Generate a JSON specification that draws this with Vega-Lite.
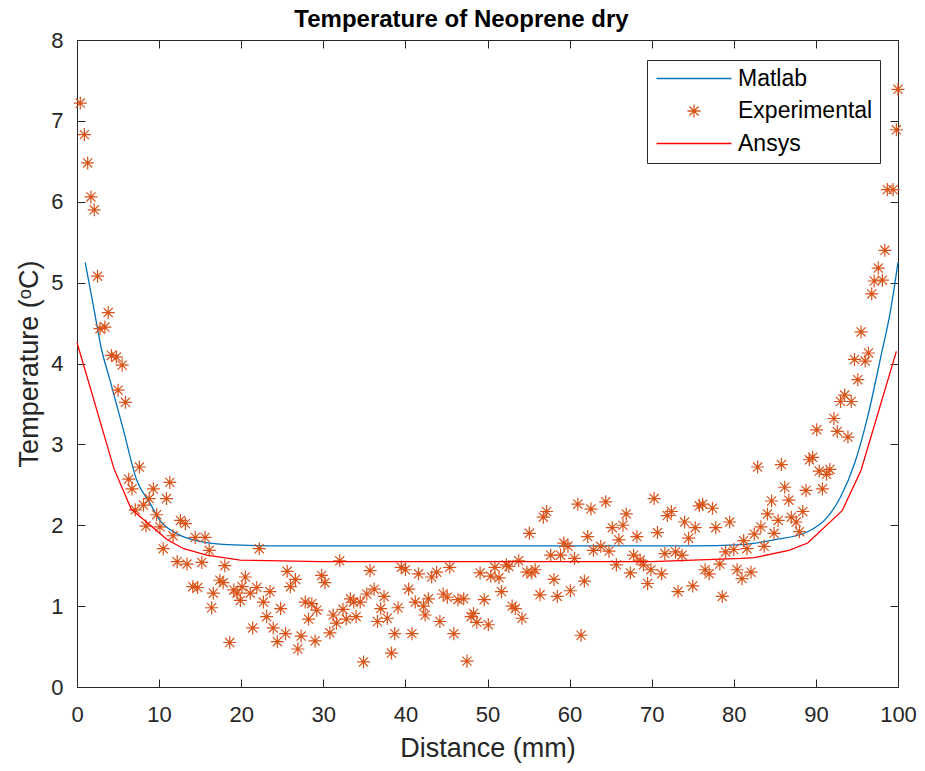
{
  "$schema": "https://vega.github.io/schema/vega-lite/v6.json",
  "width": 821,
  "height": 647,
  "autosize": {"type": "none"},
  "padding": {"left": 77, "top": 40, "right": 27, "bottom": 84},
  "background": "white",
  "title": {"text": "Temperature of Neoprene dry", "fontSize": 24, "fontWeight": "bold", "font": "Liberation Sans", "color": "#000000", "offset": -3, "dx": -26},
  "config": {
    "view": {"stroke": null},
    "axis": {"grid": false, "domainColor": "#262626", "tickColor": "#262626", "labelColor": "#262626", "titleColor": "#262626", "labelFont": "Liberation Sans", "titleFont": "Liberation Sans", "labelFontSize": 22, "titleFontSize": 27, "titleFontWeight": "normal", "tickSize": -8, "domainWidth": 1, "tickWidth": 1, "labelFlush": false}
  },
  "datasets": {
    "matlab": [
      {"x": 1, "y": 5.25}, {"x": 2, "y": 4.71}, {"x": 3, "y": 4.17}, {"x": 4, "y": 3.8}, {"x": 5.65, "y": 3.18}, {"x": 7.27, "y": 2.56}, {"x": 8.9, "y": 2.27}, {"x": 10.1, "y": 2.06}, {"x": 12.1, "y": 1.9}, {"x": 15, "y": 1.8}, {"x": 18.3, "y": 1.76}, {"x": 25, "y": 1.745}, {"x": 50, "y": 1.745}, {"x": 75, "y": 1.745}, {"x": 80.9, "y": 1.76}, {"x": 84.9, "y": 1.82}, {"x": 89, "y": 1.92}, {"x": 91.4, "y": 2.1}, {"x": 93, "y": 2.35}, {"x": 94.7, "y": 2.76}, {"x": 96.3, "y": 3.34}, {"x": 97.9, "y": 4.08}, {"x": 99.1, "y": 4.66}, {"x": 100, "y": 5.25}
    ],
    "ansys": [
      {"x": 0, "y": 4.26}, {"x": 4.5, "y": 2.7}, {"x": 6.6, "y": 2.2}, {"x": 11, "y": 1.82}, {"x": 13, "y": 1.71}, {"x": 15.8, "y": 1.63}, {"x": 19.9, "y": 1.57}, {"x": 29.6, "y": 1.55}, {"x": 50, "y": 1.55}, {"x": 70, "y": 1.55}, {"x": 80.9, "y": 1.59}, {"x": 82.5, "y": 1.6}, {"x": 86.7, "y": 1.69}, {"x": 89, "y": 1.78}, {"x": 93.2, "y": 2.18}, {"x": 95.5, "y": 2.68}, {"x": 99.8, "y": 4.15}
    ],
    "exp": [
      {"x": 0.4, "y": 7.22}, {"x": 0.9, "y": 6.83}, {"x": 1.3, "y": 6.48}, {"x": 1.7, "y": 6.06}, {"x": 2.1, "y": 5.9}, {"x": 2.5, "y": 5.08}, {"x": 3.8, "y": 4.63}, {"x": 2.8, "y": 4.43}, {"x": 3.4, "y": 4.45}, {"x": 4.2, "y": 4.1}, {"x": 4.8, "y": 4.08}, {"x": 5.5, "y": 3.98}, {"x": 5.0, "y": 3.67}, {"x": 5.9, "y": 3.52},
      {"x": 7.6, "y": 2.72}, {"x": 6.3, "y": 2.57}, {"x": 6.7, "y": 2.45}, {"x": 11.3, "y": 2.53}, {"x": 9.3, "y": 2.45}, {"x": 8.8, "y": 2.33}, {"x": 10.9, "y": 2.33}, {"x": 8.1, "y": 2.25}, {"x": 7.1, "y": 2.19}, {"x": 9.7, "y": 2.13}, {"x": 12.6, "y": 2.06}, {"x": 13.2, "y": 2.02}, {"x": 8.4, "y": 1.99}, {"x": 10.1, "y": 1.98}, {"x": 11.7, "y": 1.87}, {"x": 14.4, "y": 1.85}, {"x": 15.6, "y": 1.85}, {"x": 16.1, "y": 1.69}, {"x": 10.5, "y": 1.71}, {"x": 22.2, "y": 1.71},
      {"x": 12.2, "y": 1.55}, {"x": 13.4, "y": 1.52}, {"x": 15.2, "y": 1.54}, {"x": 18.0, "y": 1.5}, {"x": 25.6, "y": 1.43}, {"x": 26.6, "y": 1.33}, {"x": 26.0, "y": 1.24}, {"x": 17.4, "y": 1.32}, {"x": 17.8, "y": 1.29}, {"x": 14.1, "y": 1.24}, {"x": 14.7, "y": 1.23}, {"x": 16.6, "y": 1.16}, {"x": 20.5, "y": 1.36}, {"x": 19.1, "y": 1.2}, {"x": 20.1, "y": 1.24}, {"x": 19.5, "y": 1.16}, {"x": 21.9, "y": 1.23}, {"x": 21.1, "y": 1.16}, {"x": 23.5, "y": 1.18}, {"x": 19.9, "y": 1.07}, {"x": 22.7, "y": 1.05}, {"x": 16.4, "y": 0.98}, {"x": 24.8, "y": 0.97}, {"x": 27.8, "y": 1.05}, {"x": 28.6, "y": 1.03}, {"x": 29.2, "y": 0.95}, {"x": 23.1, "y": 0.87}, {"x": 28.2, "y": 0.84}, {"x": 21.4, "y": 0.73}, {"x": 23.9, "y": 0.73}, {"x": 25.4, "y": 0.66}, {"x": 27.3, "y": 0.63}, {"x": 18.6, "y": 0.55}, {"x": 24.4, "y": 0.56}, {"x": 29.0, "y": 0.57}, {"x": 26.9, "y": 0.47},
      {"x": 57.2, "y": 2.17}, {"x": 56.8, "y": 2.1}, {"x": 55.1, "y": 1.9}, {"x": 57.7, "y": 1.63}, {"x": 32.0, "y": 1.56}, {"x": 29.8, "y": 1.38}, {"x": 30.2, "y": 1.29}, {"x": 35.7, "y": 1.44}, {"x": 39.5, "y": 1.48}, {"x": 40.0, "y": 1.45}, {"x": 41.6, "y": 1.4}, {"x": 43.2, "y": 1.36}, {"x": 43.8, "y": 1.42}, {"x": 45.4, "y": 1.48}, {"x": 49.1, "y": 1.41}, {"x": 50.4, "y": 1.37}, {"x": 50.9, "y": 1.48}, {"x": 51.4, "y": 1.35}, {"x": 52.3, "y": 1.51}, {"x": 52.6, "y": 1.49}, {"x": 53.8, "y": 1.56}, {"x": 54.8, "y": 1.42}, {"x": 55.8, "y": 1.45}, {"x": 55.4, "y": 1.41}, {"x": 58.1, "y": 1.33}, {"x": 56.4, "y": 1.14}, {"x": 58.5, "y": 1.12},
      {"x": 33.3, "y": 1.09}, {"x": 33.7, "y": 1.05}, {"x": 34.5, "y": 1.05}, {"x": 35.3, "y": 1.15}, {"x": 36.2, "y": 1.21}, {"x": 37.4, "y": 1.12}, {"x": 40.4, "y": 1.21}, {"x": 41.2, "y": 1.05}, {"x": 42.8, "y": 1.09}, {"x": 44.6, "y": 1.15}, {"x": 45.1, "y": 1.11}, {"x": 46.4, "y": 1.08}, {"x": 47.1, "y": 1.09}, {"x": 49.6, "y": 1.08}, {"x": 51.7, "y": 1.18}, {"x": 53.0, "y": 1.0}, {"x": 53.4, "y": 0.97}, {"x": 54.2, "y": 0.85}, {"x": 32.4, "y": 0.96}, {"x": 31.2, "y": 0.89}, {"x": 31.6, "y": 0.79}, {"x": 32.8, "y": 0.84}, {"x": 34.0, "y": 0.87}, {"x": 37.0, "y": 0.97}, {"x": 36.6, "y": 0.81}, {"x": 37.8, "y": 0.85}, {"x": 39.1, "y": 0.98}, {"x": 42.2, "y": 1.0}, {"x": 42.4, "y": 0.89}, {"x": 44.2, "y": 0.81}, {"x": 48.0, "y": 0.87}, {"x": 48.3, "y": 0.91}, {"x": 48.7, "y": 0.8}, {"x": 50.1, "y": 0.77}, {"x": 30.8, "y": 0.67}, {"x": 38.7, "y": 0.66}, {"x": 40.8, "y": 0.66}, {"x": 45.9, "y": 0.66}, {"x": 38.3, "y": 0.42}, {"x": 34.9, "y": 0.31}, {"x": 47.5, "y": 0.32},
      {"x": 61.0, "y": 2.26}, {"x": 62.6, "y": 2.2}, {"x": 64.4, "y": 2.29}, {"x": 70.3, "y": 2.33}, {"x": 66.9, "y": 2.14}, {"x": 71.9, "y": 2.12}, {"x": 72.4, "y": 2.17}, {"x": 75.8, "y": 2.24}, {"x": 76.2, "y": 2.26}, {"x": 77.4, "y": 2.21}, {"x": 65.2, "y": 1.97}, {"x": 66.5, "y": 2.0}, {"x": 62.2, "y": 1.86}, {"x": 70.7, "y": 1.91}, {"x": 74.0, "y": 2.04}, {"x": 75.3, "y": 1.97}, {"x": 77.8, "y": 1.97}, {"x": 79.5, "y": 2.04}, {"x": 66.0, "y": 1.82}, {"x": 68.2, "y": 1.86}, {"x": 74.5, "y": 1.84},
      {"x": 59.3, "y": 1.78}, {"x": 59.8, "y": 1.74}, {"x": 62.9, "y": 1.69}, {"x": 63.8, "y": 1.74}, {"x": 64.8, "y": 1.68}, {"x": 58.9, "y": 1.63}, {"x": 60.6, "y": 1.59}, {"x": 67.8, "y": 1.63}, {"x": 71.6, "y": 1.65}, {"x": 72.9, "y": 1.67}, {"x": 73.7, "y": 1.63}, {"x": 79.0, "y": 1.67}, {"x": 80.0, "y": 1.7}, {"x": 65.7, "y": 1.51}, {"x": 68.6, "y": 1.57}, {"x": 69.0, "y": 1.51}, {"x": 69.9, "y": 1.45}, {"x": 67.4, "y": 1.41}, {"x": 71.2, "y": 1.4}, {"x": 76.5, "y": 1.45}, {"x": 77.0, "y": 1.4}, {"x": 78.3, "y": 1.52}, {"x": 80.4, "y": 1.45}, {"x": 61.8, "y": 1.31}, {"x": 69.5, "y": 1.28}, {"x": 60.1, "y": 1.19}, {"x": 73.2, "y": 1.18}, {"x": 75.0, "y": 1.25}, {"x": 78.6, "y": 1.12}, {"x": 61.4, "y": 0.64},
      {"x": 98.4, "y": 5.4}, {"x": 97.6, "y": 5.18}, {"x": 97.1, "y": 5.02}, {"x": 98.1, "y": 5.03}, {"x": 96.8, "y": 4.86}, {"x": 95.5, "y": 4.39}, {"x": 94.7, "y": 4.05}, {"x": 96.0, "y": 4.03}, {"x": 96.4, "y": 4.13}, {"x": 95.1, "y": 3.8}, {"x": 93.5, "y": 3.61}, {"x": 93.0, "y": 3.53}, {"x": 94.3, "y": 3.53}, {"x": 92.2, "y": 3.32}, {"x": 92.6, "y": 3.16}, {"x": 93.9, "y": 3.09}, {"x": 90.1, "y": 3.18}, {"x": 82.9, "y": 2.72}, {"x": 85.8, "y": 2.75}, {"x": 89.2, "y": 2.81}, {"x": 89.6, "y": 2.84}, {"x": 90.4, "y": 2.67}, {"x": 91.3, "y": 2.63}, {"x": 91.7, "y": 2.69}, {"x": 86.2, "y": 2.47}, {"x": 88.8, "y": 2.43}, {"x": 90.8, "y": 2.45}, {"x": 84.6, "y": 2.3}, {"x": 86.7, "y": 2.31}, {"x": 84.1, "y": 2.14}, {"x": 88.4, "y": 2.17}, {"x": 85.4, "y": 2.06}, {"x": 87.0, "y": 2.1}, {"x": 87.6, "y": 2.04}, {"x": 88.0, "y": 1.92}, {"x": 83.3, "y": 1.98}, {"x": 82.5, "y": 1.89}, {"x": 84.9, "y": 1.9}, {"x": 81.2, "y": 1.81}, {"x": 81.6, "y": 1.71}, {"x": 83.7, "y": 1.74}, {"x": 82.1, "y": 1.42}, {"x": 81.0, "y": 1.34},
      {"x": 98.7, "y": 6.15}, {"x": 99.4, "y": 6.15}, {"x": 99.8, "y": 6.89}, {"x": 100.0, "y": 7.39}
    ]
  },
  "layer": [
    {
      "data": {"name": "matlab"},
      "mark": {"type": "line", "strokeWidth": 1.3, "interpolate": "monotone"},
      "encoding": {
        "x": {"field": "x", "type": "quantitative", "scale": {"domain": [0, 100], "nice": false, "zero": false},
              "axis": {"orient": "bottom", "values": [0, 10, 20, 30, 40, 50, 60, 70, 80, 90, 100], "title": "Distance (mm)", "labelPadding": 25, "titleBaseline": "alphabetic", "titleY": 69}},
        "y": {"field": "y", "type": "quantitative", "scale": {"domain": [0, 8], "nice": false, "zero": false},
              "axis": {"orient": "left", "values": [0, 1, 2, 3, 4, 5, 6, 7, 8], "title": "Temperature (ᵒC)", "labelPadding": 22, "titleBaseline": "alphabetic", "titleX": -40}},
        "color": {"datum": "Matlab", "type": "nominal",
                  "scale": {"domain": ["Matlab", "Experimental", "Ansys"], "range": ["#0072BD", "#D95319", "#FF0000"]},
                  "legend": {"title": null, "orient": "none", "legendX": 570, "legendY": 20, "fillColor": "white", "strokeColor": "#262626", "padding": 7, "labelFontSize": 23, "labelFont": "Liberation Sans", "labelColor": "#000000", "symbolSize": 170, "symbolStrokeWidth": 1.3, "rowPadding": 8.5, "labelOffset": 61,
                             "encode": {"symbols": {"update": {
                               "shape": {"signal": "datum.value === 'Experimental' ? 'M-1,0L1,0M0,-1L0,1M-0.7,-0.7L0.7,0.7M-0.7,0.7L0.7,-0.7' : 'M-5.75,0L5.75,0'"},
                               "size": {"value": 170},
                               "x": {"value": 40},
                               "fill": {"value": "transparent"},
                               "stroke": {"scale": "color", "field": "value"},
                               "strokeWidth": {"value": 1.3}}}}}}
      }
    },
    {
      "data": {"name": "exp"},
      "mark": {"type": "point", "shape": "M-1,0L1,0M0,-1L0,1M-0.7,-0.7L0.7,0.7M-0.7,0.7L0.7,-0.7", "filled": false, "size": 170, "strokeWidth": 1.2, "opacity": 1},
      "encoding": {
        "x": {"field": "x", "type": "quantitative", "axis": null},
        "y": {"field": "y", "type": "quantitative", "axis": null},
        "color": {"datum": "Experimental", "type": "nominal"}
      }
    },
    {
      "data": {"name": "ansys"},
      "mark": {"type": "line", "strokeWidth": 1.3, "interpolate": "linear"},
      "encoding": {
        "x": {"field": "x", "type": "quantitative", "axis": {"orient": "top", "values": [0, 10, 20, 30, 40, 50, 60, 70, 80, 90, 100], "labels": false, "title": null}},
        "y": {"field": "y", "type": "quantitative", "axis": {"orient": "right", "values": [0, 1, 2, 3, 4, 5, 6, 7, 8], "labels": false, "title": null}},
        "color": {"datum": "Ansys", "type": "nominal"}
      }
    }
  ],
  "resolve": {"axis": {"x": "independent", "y": "independent"}}
}
